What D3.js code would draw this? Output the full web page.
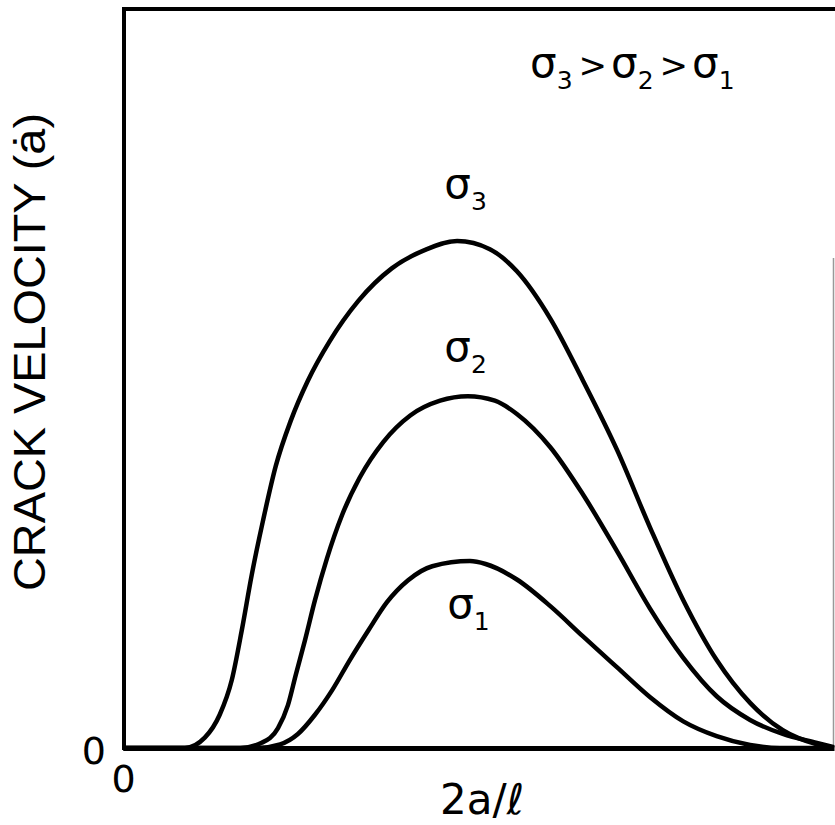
<!DOCTYPE html>
<html>
<head>
<meta charset="utf-8">
<script src="https://cdn.jsdelivr.net/npm/d3@7"></script>
<style>
  body { margin: 0; background: #fff; }
  text { font-family: "DejaVu Sans", "Liberation Sans", sans-serif; fill: #000; }
</style>
</head>
<body>
<div id="chart"></div>
<script>
// values, x = 2a/l and y = crack velocity, both on a 0-100 scale
const sigma1 = [[0, 0], [18.8, 0], [22.1, 0.5], [24.6, 1.9], [27.0, 4.5], [29.4, 7.8], [31.9, 11.9],
  [34.5, 15.9], [37.1, 19.7], [40.1, 22.7], [43.5, 24.6], [48.8, 25.3], [51.0, 24.9], [55.4, 22.8],
  [60.1, 19.2], [64.7, 15.1], [69.5, 10.9], [74.1, 6.9], [78.8, 3.6], [83.5, 1.6], [88.2, 0.4],
  [92.4, 0], [100, 0]];
const sigma2 = [[0, 0], [16.5, 0], [19.5, 0.7], [21.8, 2.7], [23.2, 5.8], [24.3, 9.9], [25.6, 14.6],
  [27.0, 20.0], [28.7, 25.7], [30.8, 31.5], [33.3, 36.6], [36.6, 41.4], [40.4, 45.0], [44.6, 47.0],
  [48.5, 47.6], [52.3, 47.0], [55.4, 45.2], [60.1, 40.7], [64.7, 34.3], [69.5, 26.6], [74.1, 18.9],
  [78.8, 12.2], [83.5, 7.0], [88.2, 3.8], [92.8, 1.9], [97.6, 0.7], [100, 0.1]];
const sigma3 = [[0, 0], [8.7, 0], [11.5, 1.4], [13.6, 4.5], [15.3, 9.2], [16.7, 15.9], [18.1, 23.4],
  [19.7, 30.8], [21.5, 38.2], [23.6, 44.3], [26.0, 49.7], [29.1, 55.1], [33.1, 60.5], [37.8, 64.9],
  [42.5, 67.4], [47.0, 68.6], [51.6, 67.5], [55.4, 64.5], [60.1, 58.1], [64.7, 49.7], [69.5, 40.3],
  [74.1, 29.9], [78.8, 20.0], [83.5, 11.9], [88.2, 6.1], [92.8, 2.4], [97.6, 0.5], [100, 0]];
const seriesNames = ['1', '2', '3'];
// where each sigma label sits, in data units
const labelPos = [[45.6, 17.6], [45.2, 52.4], [45.2, 74.4]];
const xTicks = [0];
const yTicks = [0];

const width = 835;
const height = 825;
const margin = { top: 9, right: 1, bottom: 77, left: 123 };

const svg = d3.select('#chart').append('svg')
  .attr('width', width)
  .attr('height', height);

const xScale = d3.scaleLinear()
  .domain([0, 100])
  .range([margin.left, width - margin.right]);

const yScale = d3.scaleLinear()
  .domain([0, 100])
  .range([height - margin.bottom, margin.top]);

// frame: left and top edges, plus the faint right edge from the scan
svg.append('line')
  .attr('x1', xScale(0) + 1).attr('x2', xScale(0) + 1)
  .attr('y1', yScale(100) - 2).attr('y2', yScale(0) + 2)
  .attr('stroke', '#000').attr('stroke-width', 4);
svg.append('line')
  .attr('x1', xScale(0) - 1).attr('x2', width)
  .attr('y1', yScale(100)).attr('y2', yScale(100))
  .attr('stroke', '#000').attr('stroke-width', 4);
svg.append('line')
  .attr('x1', width - 1.5).attr('x2', width - 1.5)
  .attr('y1', 258).attr('y2', yScale(0))
  .attr('stroke', '#999').attr('stroke-width', 1.5);

// axes: only the zero ticks are labelled
const xAxis = d3.axisBottom(xScale).tickValues(xTicks).tickSize(0).tickPadding(17)
  .tickFormat(d3.format('d'));
const yAxis = d3.axisLeft(yScale).tickValues(yTicks).tickSize(0).tickPadding(17)
  .tickFormat(d3.format('d'));

svg.append('g')
  .attr('transform', `translate(0,${yScale(0)})`)
  .call(xAxis)
  .call((g) => g.select('.domain').attr('stroke-width', 5))
  .selectAll('text')
  .attr('font-size', 38)
  .style('font-family', '"DejaVu Sans", sans-serif');

svg.append('g')
  .attr('transform', `translate(${xScale(0)},0)`)
  .call(yAxis)
  .call((g) => g.select('.domain').remove())
  .selectAll('text')
  .attr('dy', '0.42em')
  .attr('font-size', 38)
  .style('font-family', '"DejaVu Sans", sans-serif');

// curves
const line = d3.line()
  .x((d) => xScale(d[0]))
  .y((d) => yScale(d[1]))
  .curve(d3.curveMonotoneX);

svg.selectAll('.curve')
  .data([sigma1, sigma2, sigma3])
  .join('path')
  .attr('class', 'curve')
  .attr('d', line)
  .attr('fill', 'none')
  .attr('stroke', '#000')
  .attr('stroke-width', 4.5)
  .attr('stroke-linejoin', 'round');

// sigma labels by the peaks
function sigmaText(sel, sub) {
  sel.append('tspan').attr('font-size', 42).text('σ');
  sel.append('tspan').attr('font-size', 25).attr('dy', 12).text(sub);
}

seriesNames.forEach((name, i) => {
  svg.append('text')
    .attr('x', xScale(labelPos[i][0]))
    .attr('y', yScale(labelPos[i][1]))
    .call(sigmaText, name);
});

// ordering note at the top right
const order = svg.append('text')
  .attr('x', 530)
  .attr('y', 77);
sigmaText(order, '3');
order.append('tspan').attr('font-size', 34).attr('dy', -12).attr('dx', 6).text('>');
order.append('tspan').attr('font-size', 42).attr('dx', 4).text('σ');
order.append('tspan').attr('font-size', 25).attr('dy', 12).text('2');
order.append('tspan').attr('font-size', 34).attr('dy', -12).attr('dx', 6).text('>');
order.append('tspan').attr('font-size', 42).attr('dx', 4).text('σ');
order.append('tspan').attr('font-size', 25).attr('dy', 12).text('1');

// axis titles
svg.append('text')
  .attr('transform', 'translate(45,352) rotate(-90)')
  .attr('text-anchor', 'middle')
  .attr('font-size', 44)
  .attr('textLength', 478)
  .attr('lengthAdjust', 'spacingAndGlyphs')
  .style('font-family', '"Liberation Sans", sans-serif')
  .text('CRACK VELOCITY (ȧ)');

svg.append('text')
  .attr('x', 482)
  .attr('y', 814)
  .attr('text-anchor', 'middle')
  .attr('font-size', 42)
  .text('2a/ℓ');
</script>
</body>
</html>
